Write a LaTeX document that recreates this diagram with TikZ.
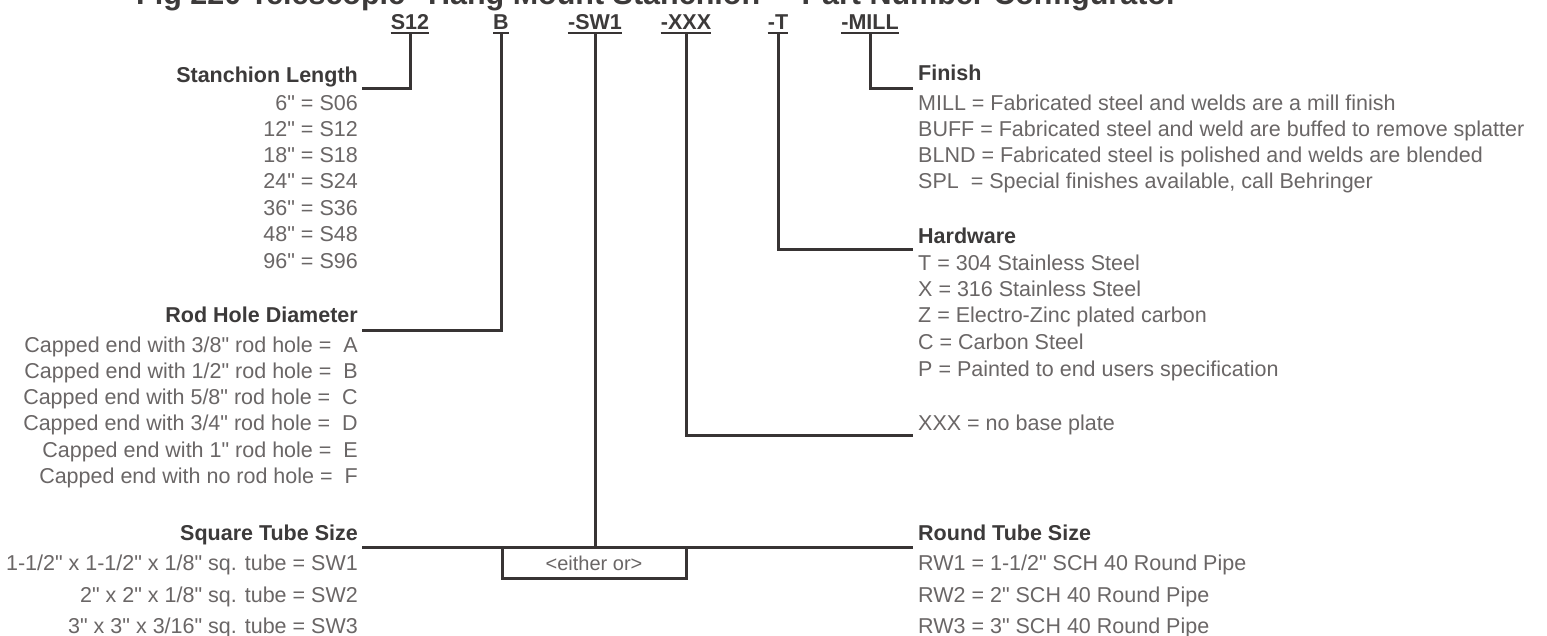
\documentclass[tikz,border=0pt]{standalone}
\usepackage{fontspec}
\setmainfont{Liberation Sans}[Ligatures=TeXOff]
\newcommand{\qq}{\symbol{34}}
\definecolor{linec}{HTML}{383434}
\definecolor{headc}{HTML}{3C3A3A}
\definecolor{bodyc}{HTML}{6A6666}
\begin{document}
\begin{tikzpicture}[x=1pt,y=-1pt,
  conn/.style={draw=linec, line width=3pt, line join=miter},
  uline/.style={draw=linec, line width=2pt},
  titletext/.style={inner sep=0pt, text=headc, font=\bfseries\fontsize{30.5}{33}\selectfont, anchor=base west},
  codetext/.style={inner sep=0pt, text=headc, font=\bfseries\fontsize{21.5}{24}\selectfont, anchor=base},
  headL/.style={inner sep=0pt, text=headc, font=\bfseries\fontsize{21.5}{24}\selectfont, anchor=base east},
  headR/.style={inner sep=0pt, text=headc, font=\bfseries\fontsize{21.5}{24}\selectfont, anchor=base west},
  bodyL/.style={inner sep=0pt, text=bodyc, font=\fontsize{21.5}{24}\selectfont, anchor=base east},
  bodyR/.style={inner sep=0pt, text=bodyc, font=\fontsize{21.5}{24}\selectfont, anchor=base west},
  boxtext/.style={inner sep=0pt, text=bodyc, font=\fontsize{20}{22}\selectfont}]
\useasboundingbox[fill=white] (0,0) rectangle (1547,635);

% title (cut off at the top, as in the reference)
\node[titletext] (title) at (136,4) {Fig 220 Telescopic \qq Hang Mount Stanchion\qq\ - Part Number Configurator};

% part number codes
\node[codetext] (cS) at (410,29) {S12};
\node[codetext] (cB) at (501,29) {B};
\node[codetext] (cSW) at (595,29) {-SW1};
\node[codetext] (cX) at (686,29) {-XXX};
\node[codetext] (cT) at (778,29) {-T};
\node[codetext] (cM) at (870,29) {-MILL};
\foreach \n in {cS,cB,cSW,cX,cT,cM}{
  \draw[uline] ([yshift=-4pt]\n.base west) -- ([yshift=-4pt]\n.base east);
}

% left column
\node[headL] (hLen) at (358,82) {Stanchion Length};
\node[bodyL] (l1) at (358,110) {6\qq\ = S06};
\node[bodyL] (l2) at (358,136) {12\qq\ = S12};
\node[bodyL] (l3) at (358,162) {18\qq\ = S18};
\node[bodyL] (l4) at (358,188) {24\qq\ = S24};
\node[bodyL] (l5) at (358,215) {36\qq\ = S36};
\node[bodyL] (l6) at (358,241) {48\qq\ = S48};
\node[bodyL] (l7) at (358,268) {96\qq\ = S96};

\node[headL] (hRod) at (358,322) {Rod Hole Diameter};
\node[bodyL] (r1) at (358,352) {Capped end with 3/8\qq\ rod hole = \ A};
\node[bodyL] (r2) at (358,378) {Capped end with 1/2\qq\ rod hole = \ B};
\node[bodyL] (r3) at (358,404) {Capped end with 5/8\qq\ rod hole = \ C};
\node[bodyL] (r4) at (358,430) {Capped end with 3/4\qq\ rod hole = \ D};
\node[bodyL] (r5) at (358,457) {Capped end with 1\qq\ rod hole = \ E};
\node[bodyL] (r6) at (358,483) {Capped end with no rod hole = \ F};

\node[headL] (hSq) at (358,540) {Square Tube Size};
\node[bodyL] (s1) at (358,570) {1-1/2\qq\ x 1-1/2\qq\ x 1/8\qq\ sq. tube = SW1};
\node[bodyL] (s2) at (358,602) {2\qq\ x 2\qq\ x 1/8\qq\ sq. tube = SW2};
\node[bodyL] (s3) at (358,633) {3\qq\ x 3\qq\ x 3/16\qq\ sq. tube = SW3};

% right column
\node[headR] (hFin) at (918,80) {Finish};
\node[bodyR] (f1) at (918,110) {MILL = Fabricated steel and welds are a mill finish};
\node[bodyR] (f2) at (918,136) {BUFF = Fabricated steel and weld are buffed to remove splatter};
\node[bodyR] (f3) at (918,162) {BLND = Fabricated steel is polished and welds are blended};
\node[bodyR] (f4) at (918,188) {SPL \ = Special finishes available, call Behringer};

\node[headR] (hHw) at (918,243) {Hardware};
\node[bodyR] (h1) at (918,270) {T = 304 Stainless Steel};
\node[bodyR] (h2) at (918,296) {X = 316 Stainless Steel};
\node[bodyR] (h3) at (918,322) {Z = Electro-Zinc plated carbon};
\node[bodyR] (h4) at (918,349) {C = Carbon Steel};
\node[bodyR] (h5) at (918,376) {P = Painted to end users specification};

\node[bodyR] (xb) at (918,430) {XXX = no base plate};

\node[headR] (hRd) at (918,540) {Round Tube Size};
\node[bodyR] (d1) at (918,570) {RW1 = 1-1/2\qq\ SCH 40 Round Pipe};
\node[bodyR] (d2) at (918,602) {RW2 = 2\qq\ SCH 40 Round Pipe};
\node[bodyR] (d3) at (918,633) {RW3 = 3\qq\ SCH 40 Round Pipe};

% either-or box
\coordinate (tubeL) at (362,547);
\coordinate (tubeR) at (913,547);
\coordinate (boxL) at (502,547);
\coordinate (boxR) at (686,547);
\node[boxtext] (either) at (594,563) {<either or>};

% connectors
\coordinate (lenEnd) at (362,88);
\coordinate (rodEnd) at (362,330);
\coordinate (finEnd) at (913,88);
\coordinate (hwEnd) at (913,249);
\coordinate (xEnd) at (913,435);

\draw[conn] ([yshift=-4pt]cS.base) |- (lenEnd);
\draw[conn] ([yshift=-4pt]cB.base) |- (rodEnd);
\draw[conn] ([yshift=-4pt]cSW.base) -- (cSW.base |- tubeL);
\draw[conn] ([yshift=-4pt]cX.base) |- (xEnd);
\draw[conn] ([yshift=-4pt]cT.base) |- (hwEnd);
\draw[conn] ([yshift=-4pt]cM.base) |- (finEnd);
\draw[conn] (tubeL) -- (tubeR);
\draw[conn] (boxL) -- ++(0,31) -| (boxR);
\end{tikzpicture}
\end{document}
